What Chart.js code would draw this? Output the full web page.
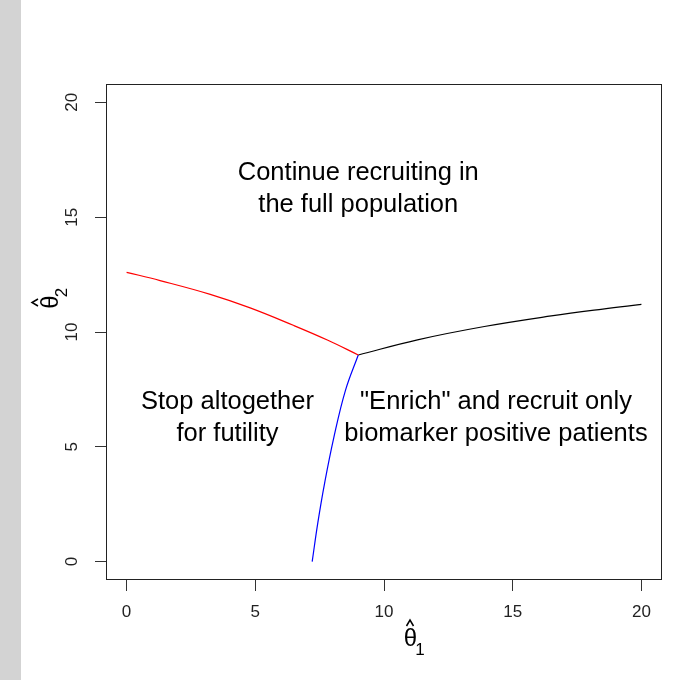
<!DOCTYPE html>
<html>
<head>
<meta charset="utf-8">
<script src="https://cdn.jsdelivr.net/npm/chart.js@4"></script>
<style>
  body { margin: 0; background: #fff; }
  #wrap { width: 692px; height: 680px; }
</style>
</head>
<body>
<div id="wrap"><canvas id="boundaryChart" width="692" height="680"></canvas></div>
<script>

/* DATA */
const xTicks = [0, 5, 10, 15, 20];
const yTicks = [0, 5, 10, 15, 20];

// futility boundary (red)
const redX = [0, 1.3, 3.25, 4.8, 6.5, 7.8, 9];
const redY = [12.6, 12.24, 11.64, 11.05, 10.28, 9.65, 9.0];

// enrichment vs full population boundary (black)
const blackX = [9, 11.3, 13.9, 16.5, 18.5, 20];
const blackY = [9.0, 9.66, 10.24, 10.7, 11.0, 11.2];

// futility vs enrichment boundary (blue)
const blueX = [7.21, 7.43, 7.69, 8.05, 8.5, 9];
const blueY = [0, 1.7, 3.4, 5.4, 7.45, 9.0];

// region labels
const labelLines = [
  ["Continue recruiting in", "the full population"],
  ["Stop altogether", "for futility"],
  ["\"Enrich\" and recruit only", "biomarker positive patients"]
];
const labelX = [9, 3.92, 14.35];
const labelY = [16.3, 6.34, 6.34];

const FONT = "'Liberation Sans', Arial, sans-serif";

const toPoints = (xs, ys) => xs.map((x, i) => ({ x: x, y: ys[i] }));

function lineSet(xs, ys, color) {
  return {
    data: toPoints(xs, ys),
    borderColor: color,
    borderWidth: 1.2,
    pointRadius: 0,
    fill: false,
    tension: 0.4
  };
}


/* DRAWING EXTRAS: background, box, tick labels, text, axis titles */
const extras = {
  id: "extras",

  beforeDraw(chart) {
    const ctx = chart.ctx;
    ctx.save();
    ctx.fillStyle = "#ffffff";
    ctx.fillRect(0, 0, chart.width, chart.height);
    ctx.fillStyle = "#d3d3d3";
    ctx.fillRect(0, 0, 21, chart.height);
    ctx.restore();
  },

  afterDraw(chart) {
    const ctx = chart.ctx;
    const a = chart.chartArea;
    const xs = chart.scales.x;
    const ys = chart.scales.y;

    ctx.save();

    // box
    ctx.strokeStyle = "#222";
    ctx.lineWidth = 1;
    ctx.strokeRect(Math.round(a.left) + 0.5, Math.round(a.top) + 0.5,
      Math.round(a.right - a.left) - 1, Math.round(a.bottom - a.top) - 1);

    // tick labels
    ctx.fillStyle = "#222";
    ctx.font = "17px " + FONT;
    ctx.textAlign = "center";
    ctx.textBaseline = "middle";

    xs.ticks.forEach(t => {
      ctx.fillText(String(t.value), xs.getPixelForValue(t.value), 612);
    });

    ys.ticks.forEach(t => {
      ctx.save();
      ctx.translate(72, ys.getPixelForValue(t.value));
      ctx.rotate(-Math.PI / 2);
      ctx.fillText(String(t.value), 0, 0);
      ctx.restore();
    });

    // region text
    ctx.fillStyle = "#000";
    ctx.font = "25.5px " + FONT;
    ctx.textBaseline = "alphabetic";
    labelLines.forEach((lines, i) => {
      const px = xs.getPixelForValue(labelX[i]);
      const py = ys.getPixelForValue(labelY[i]);
      lines.forEach((txt, j) => {
        const off = (j - (lines.length - 1) / 2) * 32 + 9;
        ctx.fillText(txt, px, py + off);
      });
    });

    // axis titles: theta hat with subscript
    drawThetaHat(ctx, 410.5, 639, 0, "1");
    drawThetaHat(ctx, 51, 302, -Math.PI / 2, "2");

    ctx.restore();
  }
};

function drawThetaHat(ctx, cx, cy, rot, sub) {
  ctx.save();
  ctx.translate(cx, cy);
  ctx.rotate(rot);
  ctx.fillStyle = "#000";
  ctx.strokeStyle = "#000";
  ctx.textAlign = "center";
  ctx.textBaseline = "middle";
  ctx.font = "24px " + FONT;
  ctx.fillText("\u03B8", 0, 0);

  // hat
  ctx.lineWidth = 1.5;
  ctx.beginPath();
  ctx.moveTo(-4, -13);
  ctx.lineTo(-0.5, -19);
  ctx.lineTo(3, -13);
  ctx.stroke();

  ctx.font = "17px " + FONT;
  ctx.fillText(sub, 9.5, 11);
  ctx.restore();
}


/* CHART */
new Chart(document.getElementById("boundaryChart"), {

  type: "line",

  data: {
    datasets: [
      lineSet(redX, redY, "#ff0000"),
      lineSet(blackX, blackY, "#000000"),
      lineSet(blueX, blueY, "#0000ff")
    ]
  },

  options: {

    responsive: false,

    animation: false,

    events: [],

    layout: {
      padding: { left: 0, top: 84, right: 30, bottom: 0 }
    },

    plugins: {
      legend: { display: false },
      tooltip: { enabled: false }
    },

    scales: {

      x: {
        type: "linear",
        min: -0.8,
        max: 20.8,
        afterBuildTicks: s => { s.ticks = xTicks.map(v => ({ value: v })); },
        afterFit: s => { s.height = 100; },
        border: { display: false },
        grid: {
          drawOnChartArea: false,
          drawTicks: true,
          tickLength: 11,
          color: "#333",
          lineWidth: 1
        },
        ticks: { display: false }
      },

      y: {
        type: "linear",
        min: -0.8,
        max: 20.8,
        afterBuildTicks: s => { s.ticks = yTicks.map(v => ({ value: v })); },
        afterFit: s => { s.width = 106; },
        border: { display: false },
        grid: {
          drawOnChartArea: false,
          drawTicks: true,
          tickLength: 11,
          color: "#333",
          lineWidth: 1
        },
        ticks: { display: false }
      }

    }

  },

  plugins: [extras]

});

</script>
</body>
</html>
